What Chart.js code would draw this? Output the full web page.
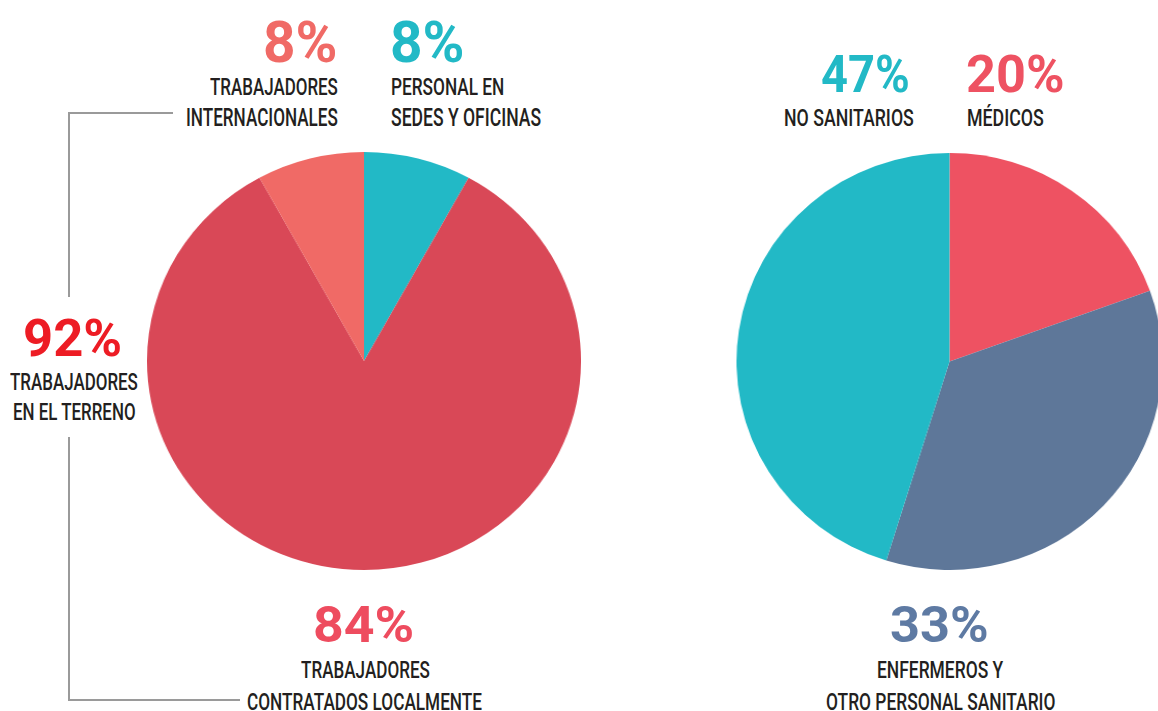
<!DOCTYPE html>
<html>
<head>
<meta charset="utf-8">
<script src="https://cdn.jsdelivr.net/npm/chart.js@4.4.1/dist/chart.umd.min.js"></script>
<style>
  html, body { margin:0; padding:0; background:#fff; }
  body { width:1158px; height:711px; position:relative; overflow:hidden; }
  canvas.pie { position:absolute; }
  .lbl { position:absolute; white-space:nowrap; line-height:1; margin:0; padding:0; transform-origin:0 0; }
  .rule { position:absolute; background:#9a9a9a; }
</style>
</head>
<body>
<canvas id="pieLeft" class="pie" width="418" height="418"></canvas>
<canvas id="pieRight" class="pie" width="417" height="417"></canvas>

<div class="rule" style="left:68px; top:112px; width:105px; height:2px;"></div>
<div class="rule" style="left:68px; top:112px; width:2px; height:185px;"></div>
<div class="rule" style="left:68px; top:437px; width:2px; height:264px;"></div>
<div class="rule" style="left:68px; top:699px; width:172px; height:2px;"></div>

<script>
// ---------- DATA ----------
// Left pie: field workers breakdown (clockwise from top)
const leftCategories = ["Personal en sedes y oficinas", "Trabajadores contratados localmente", "Trabajadores internacionales"];
const leftValues = [8, 84, 8];
// Right pie: staff type (clockwise from top), shares
const rightCategories = ["Médicos", "Enfermeros y otro personal sanitario", "No sanitarios"];
const rightValues = [19.5, 35.3, 45.2];
// Printed labels
const leftLabels = ["8%", "84%", "8%"];
const fieldLabel = "92%";
const rightLabels = ["20%", "33%", "47%"];

// ---------- STYLE ----------
const leftColors = ["#22B9C6", "#D94857", "#F06A66"];
const rightColors = ["#EE5262", "#5E7799", "#22B9C6"];
const DARK = "#231F20";
const FAMILY = "'Roboto','DejaVu Sans Condensed',sans-serif";

function makePie(id, labels, values, colors, cx, cy, rx, ry) {
  const cv = document.getElementById(id);
  const size = cv.width;
  cv.style.left = (cx - size / 2) + "px";
  cv.style.top = (cy - size / 2) + "px";
  cv.style.transform = "scaleX(" + (rx / ry) + ")";
  cv.style.transformOrigin = "50% 50%";
  new Chart(cv, {
    type: "pie",
    data: { labels: labels, datasets: [{ data: values, backgroundColor: colors, borderWidth: 0, hoverOffset: 0, offset: 0 }] },
    options: {
      responsive: false, animation: false, events: [],
      layout: { padding: 0 },
      plugins: { legend: { display: false }, tooltip: { enabled: false } }
    }
  });
}
makePie("pieLeft", leftCategories, leftValues, leftColors, 364, 361, 217, 209);
makePie("pieRight", rightCategories, rightValues, rightColors, 949, 361.5, 213, 208.5);

// ---------- TEXT ----------
const mctx = document.createElement("canvas").getContext("2d");
function place(text, color, weight, x0, x1, y0, y1, measureText) {
  const el = document.createElement("div");
  el.className = "lbl";
  el.style.fontFamily = FAMILY;
  el.style.fontWeight = weight;
  el.style.fontSize = "100px";
  el.style.color = color;
  el.appendChild(document.createTextNode(text));
  const marker = document.createElement("span");
  marker.style.cssText = "display:inline-block;width:0;height:0;";
  el.appendChild(marker);
  el.style.left = "0px"; el.style.top = "0px";
  document.body.appendChild(el);
  mctx.font = weight + " 100px " + FAMILY;
  const m = mctx.measureText(measureText || text);
  const inkH = m.actualBoundingBoxAscent + m.actualBoundingBoxDescent;
  const fs = 100 * (y1 - y0) / inkH;
  const k = fs / 100;
  el.style.fontSize = fs + "px";
  const inkW = (m.actualBoundingBoxLeft + m.actualBoundingBoxRight) * k;
  const sx = (x1 - x0) / inkW;
  const base = marker.getBoundingClientRect().top - el.getBoundingClientRect().top;
  const baselineY = y1 - m.actualBoundingBoxDescent * k;
  el.style.top = (baselineY - base) + "px";
  el.style.left = (x0 + m.actualBoundingBoxLeft * k * sx) + "px";
  el.style.transform = "scaleX(" + sx + ")";
}
const BOLD = "bold", REG = "500";
// Left chart
place(leftLabels[2], "#F06A66", BOLD, 265, 335, 21, 63);
place("TRABAJADORES", DARK, REG, 210, 337, 77, 95);
place("INTERNACIONALES", DARK, REG, 187, 337, 107, 126);
place(leftLabels[0], "#22B9C6", BOLD, 392, 462, 21, 63);
place("PERSONAL EN", DARK, REG, 392, 503, 77, 95);
place("SEDES Y OFICINAS", DARK, REG, 392, 541, 107, 126);
place(fieldLabel, "#ED1C24", BOLD, 25, 120, 319, 357);
place("TRABAJADORES", DARK, REG, 10, 137, 372, 390);
place("EN EL TERRENO", DARK, REG, 14, 135, 402, 420);
place(leftLabels[1], "#EE4C5F", BOLD, 315, 412, 605, 642);
place("TRABAJADORES", DARK, REG, 301, 429, 660, 678);
place("CONTRATADOS LOCALMENTE", DARK, REG, 248, 482, 692, 710);
// Right chart
place(rightLabels[2], "#22B9C6", BOLD, 822, 908, 55, 93);
place("NO SANITARIOS", DARK, REG, 785, 913, 108, 126);
place(rightLabels[0], "#EE5262", BOLD, 968, 1063, 55, 93);
place("MÉDICOS", DARK, REG, 968, 1043, 108, 126, "MEDICOS");
place(rightLabels[1], "#5E7AA3", BOLD, 892, 987, 605, 642);
place("ENFERMEROS Y", DARK, REG, 878, 1003, 660, 678);
place("OTRO PERSONAL SANITARIO", DARK, REG, 827, 1055, 692, 710);
</script>
</body>
</html>
